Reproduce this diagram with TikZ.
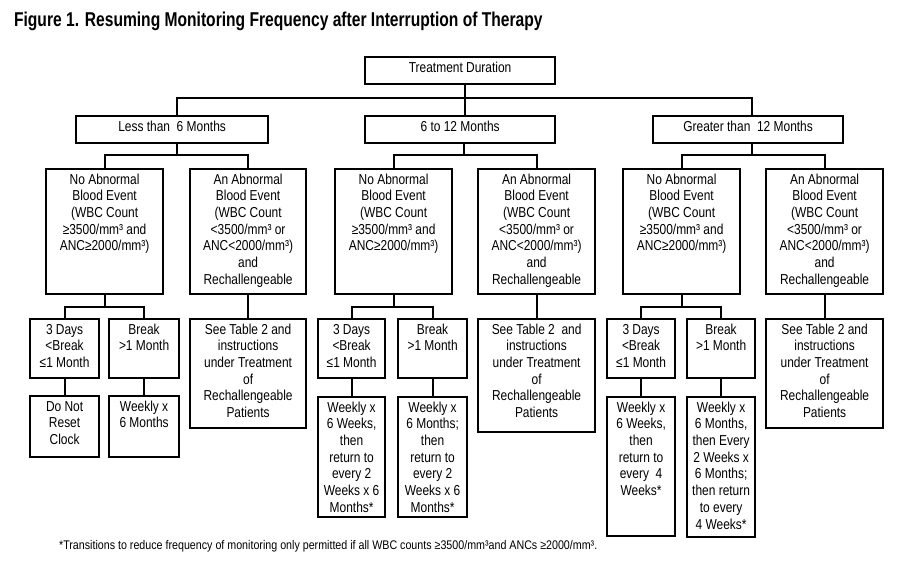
\documentclass[tikz,border=0pt]{standalone}
\usepackage{fontspec}
\setmainfont{Liberation Sans}[FakeStretch=0.83]
\newfontfamily\titlefont{Liberation Sans}[FakeStretch=0.78]
\newfontfamily\notefont{Liberation Sans}[FakeStretch=0.855]
\newcommand{\boxtxt}[3]{\parbox[t][#2pt][t]{#1pt}{\centering\rule{0pt}{15pt}#3}}

\begin{document}
\begin{tikzpicture}
        [x=1pt, y=-1pt, every node/.style={inner sep=0pt}, cell/.style={draw, line width=2.2pt, anchor=north west, font=\fontsize{14.4}{16.7}\selectfont}, every path/.style={line width=2.2pt, black}]

        \useasboundingbox (0,0) rectangle (910,563);

        \node[anchor=base west] (title) at (13,26) {\titlefont\fontsize{20}{24}\selectfont\bfseries Figure 1. Resuming Monitoring Frequency after Interruption of Therapy};

        \node[cell] (td) at (364,56) {\boxtxt{190}{27}{Treatment Duration}};

        \node[cell] (lt6) at (75,115) {\boxtxt{192}{27}{Less than\ \ 6 Months}};
        \node[cell] (m612) at (364,115) {\boxtxt{190}{27}{6 to 12 Months}};
        \node[cell] (gt12) at (652,115) {\boxtxt{190}{27}{Greater than\ \ 12 Months}};

        \node[cell] (lno) at (45,168) {\boxtxt{117}{125}{No Abnormal\\ Blood Event\\ (WBC Count\\ ≥3500/mm³ and\\ ANC≥2000/mm³)}};
        \node[cell] (lan) at (189,168) {\boxtxt{116}{125}{An Abnormal\\ Blood Event\\ (WBC Count\\ <3500/mm³ or\\ ANC<2000/mm³)\\ and\\ Rechallengeable}};
        \node[cell] (mno) at (334,168) {\boxtxt{117}{125}{No Abnormal\\ Blood Event\\ (WBC Count\\ ≥3500/mm³ and\\ ANC≥2000/mm³)}};
        \node[cell] (man) at (477,168) {\boxtxt{117}{125}{An Abnormal\\ Blood Event\\ (WBC Count\\ <3500/mm³ or\\ ANC<2000/mm³)\\ and\\ Rechallengeable}};
        \node[cell] (gno) at (622,168) {\boxtxt{117}{125}{No Abnormal\\ Blood Event\\ (WBC Count\\ ≥3500/mm³ and\\ ANC≥2000/mm³)}};
        \node[cell] (gan) at (765,168) {\boxtxt{117}{125}{An Abnormal\\ Blood Event\\ (WBC Count\\ <3500/mm³ or\\ ANC<2000/mm³)\\ and\\ Rechallengeable}};

        \node[cell] (l3d) at (29,318) {\boxtxt{69}{59}{3 Days\\ <Break\\ ≤1 Month}};
        \node[cell] (lbr) at (108,318) {\boxtxt{70}{59}{Break\\ >1 Month}};
        \node[cell] (lsee) at (189,318) {\boxtxt{116}{109}{See Table 2 and\\ instructions\\ under Treatment\\ of\\ Rechallengeable\\ Patients}};
        \node[cell] (m3d) at (317,318) {\boxtxt{67}{59}{3 Days\\ <Break\\ ≤1 Month}};
        \node[cell] (mbr) at (397,318) {\boxtxt{69}{59}{Break\\ >1 Month}};
        \node[cell] (msee) at (477,318) {\boxtxt{117}{113}{See Table 2\ \ and\\ instructions\\ under Treatment\\ of\\ Rechallengeable\\ Patients}};
        \node[cell] (g3d) at (606,318) {\boxtxt{68}{59}{3 Days\\ <Break\\ ≤1 Month}};
        \node[cell] (gbr) at (686,318) {\boxtxt{68}{59}{Break\\ >1 Month}};
        \node[cell] (gsee) at (765,318) {\boxtxt{117}{109}{See Table 2 and\\ instructions\\ under Treatment\\ of\\ Rechallengeable\\ Patients}};

        \node[cell] (ldn) at (29,395) {\boxtxt{69}{61}{Do Not\\ Reset\\ Clock}};
        \node[cell] (lwk) at (108,395) {\boxtxt{70}{61}{Weekly x\\ 6 Months}};
        \node[cell] (mwk1) at (317,396) {\boxtxt{67}{120}{Weekly x\\ 6 Weeks,\\ then\\ return to\\ every 2\\ Weeks x 6\\ Months*}};
        \node[cell] (mwk2) at (397,396) {\boxtxt{69}{120}{Weekly x\\ 6 Months;\\ then\\ return to\\ every 2\\ Weeks x 6\\ Months*}};
        \node[cell] (gwk1) at (606,396) {\boxtxt{68}{139}{Weekly x\\ 6 Weeks,\\ then\\ return to\\ every\ \ 4\\ Weeks*}};
        \node[cell] (gwk2) at (686,396) {\boxtxt{68}{140}{Weekly x\\ 6 Months,\\ then Every\\ 2 Weeks x\\ 6 Months;\\ then return\\ to every\\ 4 Weeks*}};

        \node[anchor=base west] (note) at (58,549) {\notefont\fontsize{12.5}{15}\selectfont *Transitions to reduce frequency of monitoring only permitted if all WBC counts ≥3500/mm³and ANCs ≥2000/mm³.};

        \coordinate (tj) at (465,98);
        \coordinate (lj) at (177,155);
        \coordinate (mj) at (464,155);
        \coordinate (gj) at (752,155);

        \draw (tj |- td.south) -- (tj |- m612.north);
        \draw (lj |- lt6.north) |- (tj) -| (gj |- gt12.north);

        \draw (lj |- lt6.south) -- (lj);
        \draw (lno.north) |- (lj) -| (lan.north);
        \draw (mj |- m612.south) -- (mj);
        \draw (mno.north) |- (mj) -| (man.north);
        \draw (gj |- gt12.south) -- (gj);
        \draw (gno.north) |- (gj) -| (gan.north);

        \draw (lno.south) -- ++(0,12) coordinate (lk);
        \draw (l3d.north) |- (lk) -| (lbr.north);
        \draw (mno.south) -- ++(0,12) coordinate (mk);
        \draw (m3d.north) |- (mk) -| (mbr.north);
        \draw (gno.south) -- ++(0,12) coordinate (gk);
        \draw (g3d.north) |- (gk) -| (gbr.north);

        \draw (lan) -- (lsee);
        \draw (man) -- (msee);
        \draw (gan) -- (gsee);

        \draw (l3d) -- (ldn);
        \draw (lbr) -- (lwk);
        \draw (m3d) -- (mwk1);
        \draw (mbr) -- (mwk2);
        \draw (g3d) -- (gwk1);
        \draw (gbr) -- (gwk2);

      \end{tikzpicture}
\end{document}
